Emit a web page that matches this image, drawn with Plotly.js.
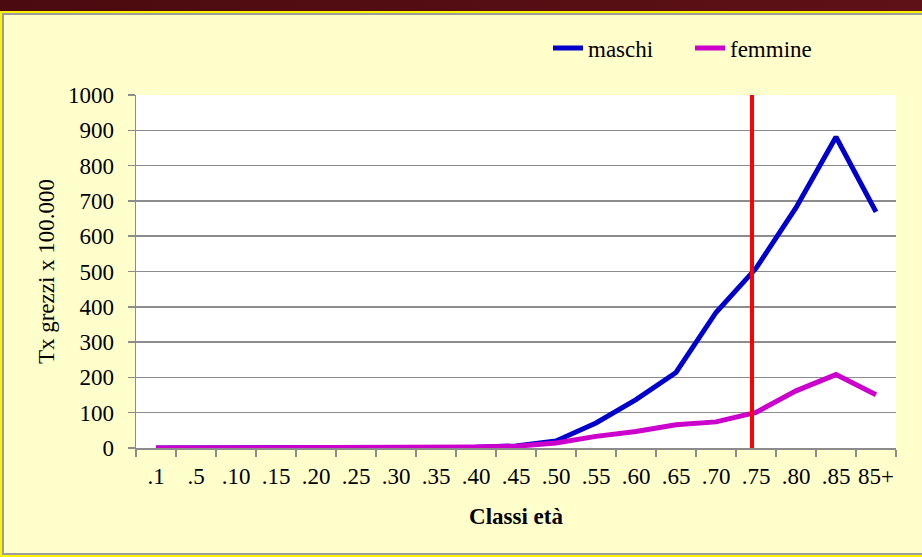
<!DOCTYPE html>
<html>
<head>
<meta charset="utf-8">
<script src="https://cdn.plot.ly/plotly-3.0.1.min.js"></script>
<style>
  html, body { margin:0; padding:0; width:922px; height:557px; overflow:hidden; background:#FFFFCC; }
  #topbar { position:absolute; left:0; top:0; width:922px; height:11px; background:linear-gradient(90deg,#4a0a0f,#5e1116); }
  #frame { position:absolute; left:0; top:11px; width:940px; height:546px; box-sizing:border-box;
           border:2px solid #FFF200; box-shadow: inset 0 0 0 2px #9c9c9c; background:#FFFFCC; }
  #chart { position:absolute; left:0; top:0; width:922px; height:557px; }
</style>
</head>
<body>
<div id="topbar"></div>
<div id="frame"></div>
<div id="chart"></div>
<script>
const categories = ['.1','.5','.10','.15','.20','.25','.30','.35','.40','.45','.50','.55','.60','.65','.70','.75','.80','.85','85+'];
const maschi   = [0,0,0,0,0,0,0,1,2,6,20,71,137,214,384,509,681,881,669];
const femmine  = [0,0,0,0,0,0,0,1,3,5,14,33,47,66,74,101,162,208,151];
const markerCategory = '.75';
const seriesNames = ['maschi','femmine'];

const serif = 'Liberation Serif, Times New Roman, serif';
const gridCol = '#8c8c8c';
const fs = 23;

const traces = [
  { x: categories, y: maschi, name: seriesNames[0], type:'scatter', mode:'lines',
    line:{ color:'#0000CC', width:5 } },
  { x: categories, y: femmine, name: seriesNames[1], type:'scatter', mode:'lines',
    line:{ color:'#CC00CC', width:5 } }
];

const mIdx = categories.indexOf(markerCategory) - 0.1;

const layout = {
  width: 922, height: 557,
  margin: { l:136, r:26, t:95, b:108.5, autoexpand:false },
  paper_bgcolor: 'rgba(0,0,0,0)',
  plot_bgcolor: '#FFFFFF',
  font: { family: serif, size: fs, color:'#000' },
  showlegend: true,
  legend: { orientation:'h', x:(548-136)/760, xanchor:'left', y:1.133, yanchor:'middle',
            bgcolor:'rgba(0,0,0,0)', entrywidth:97, entrywidthmode:'pixels',
            font:{ family: serif, size:fs, color:'#000' } },
  xaxis: {
    type:'category', range:[-0.5, categories.length-0.5],
    automargin:false, tickangle:0,
    showline:true, linecolor:gridCol, linewidth:1.5,
    ticks:'outside', tickson:'boundaries', ticklen:7, tickcolor:gridCol, tickwidth:1.5,
    showgrid:false, zeroline:false,
    tickfont:{ family: serif, size:fs },
    ticklabelstandoff: 7,
    title:{ text:'<b>Classi età</b>', font:{ family: serif, size:fs }, standoff:20 }
  },
  yaxis: {
    range:[0,1000], dtick:100, automargin:false,
    showline:true, linecolor:gridCol, linewidth:1.5,
    ticks:'outside', ticklen:7, tickcolor:gridCol, tickwidth:1.5,
    showgrid:true, gridcolor:gridCol, gridwidth:1.5, zeroline:false,
    tickfont:{ family: serif, size:fs },
    ticklabelstandoff: 9,
    title:{ text:'Tx grezzi x 100.000', font:{ family: serif, size:fs }, standoff:7 }
  },
  shapes: [
    { type:'line', xref:'x', yref:'paper', x0:mIdx, x1:mIdx, y0:0, y1:1,
      line:{ color:'#FF0000', width:4 }, layer:'above' }
  ]
};

Plotly.newPlot('chart', traces, layout, { displayModeBar:false, staticPlot:true });
</script>
</body>
</html>
